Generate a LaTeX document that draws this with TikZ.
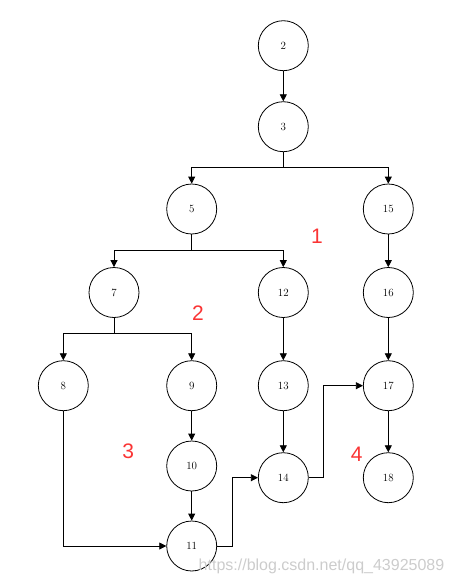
\documentclass[tikz,border=0pt]{standalone}
\usepackage{fontspec}
\newfontfamily\labelfont{Liberation Sans}
\usetikzlibrary{arrows.meta}
\definecolor{labelred}{RGB}{250,52,52}
\begin{document}
\begin{tikzpicture}[x=1pt, y=-1pt, line width=0.8pt, >={Triangle[length=7pt,width=7pt]}]

\useasboundingbox (0,0) rectangle (456,584);

\tikzset{vertex/.style={circle, draw, minimum size=50pt, inner sep=0pt, font=\fontsize{11}{13}\selectfont}}
\tikzset{pathlabel/.style={text=labelred, font=\labelfont\fontsize{21}{23}\selectfont}}

\newcommand\branch[3]{
  \draw [->] (n#1.south) -- ++(0,15.5) -| (n#2.north);
  \draw [->] (n#1.south) -- ++(0,15.5) -| (n#3.north);
}

\foreach \n/\x/\y in {2/283.3/45.7, 3/283.3/126.7, 5/191.7/209, 15/388.3/209, 7/114/292.5, 12/283.3/292.5, 16/388.3/292.5, 8/63.3/385.7, 9/191.7/385.7, 13/283.3/385.7, 17/388.3/385.7, 10/191.7/466, 14/283.3/477.7, 18/388.3/477.7, 11/191.7/546} {
  \node[vertex] (n\n) at (\x,\y) {\n};
}

\foreach \a/\b in {2/3, 15/16, 16/17, 17/18, 12/13, 13/14, 9/10, 10/11} {
  \draw [->] (n\a) -- (n\b);
}

\branch{3}{5}{15}
\branch{5}{7}{12}
\branch{7}{8}{9}

\draw [->] (n8.south) |- (n11.west);
\draw [->] (n11.east) -- ++(15,0) |- (n14.west);
\draw [->] (n14.east) -- ++(15,0) |- (n17.west);

\node[pathlabel] (p1) at (317,236) {1};
\node[pathlabel] (p2) at (198,313) {2};
\node[pathlabel] (p3) at (128.3,451.7) {3};
\node[pathlabel] (p4) at (356.7,454) {4};

\node[anchor=east, text=black!20, font=\labelfont\fontsize{16}{18}\selectfont] (mark) at (448,566) {https://blog.csdn.net/qq\_43925089};

\end{tikzpicture}
\end{document}
